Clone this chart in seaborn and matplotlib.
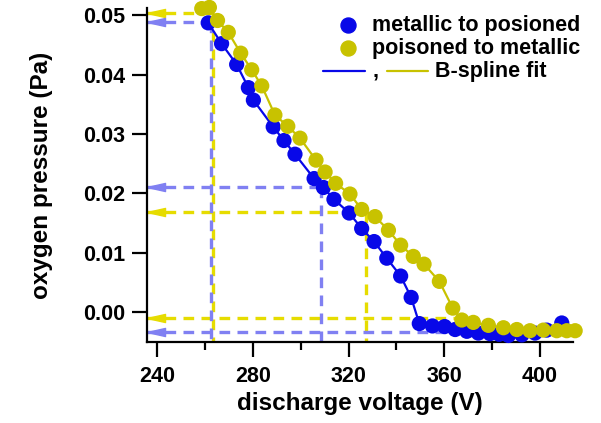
import matplotlib
matplotlib.use("Agg")
import matplotlib.pyplot as plt
import seaborn as sns
import pandas as pd
from matplotlib.ticker import FormatStrFormatter, MultipleLocator
from matplotlib.transforms import ScaledTranslation

# ---------------- data ----------------
blue_v = [261.3, 266.9, 273.2, 278.1, 280.2, 288.5, 293.0, 297.6, 305.6, 309.5,
          313.9, 320.3, 325.5, 330.7, 336.0, 341.8, 346.2, 349.6, 355.1, 360.2,
          364.6, 369.5, 374.3, 379.2, 383.0, 386.9, 392.5, 398.0, 402.9, 409.2]
blue_p = [0.0487, 0.0452, 0.0417, 0.0378, 0.0357, 0.0312, 0.0289, 0.0266, 0.0225, 0.0210,
          0.0190, 0.0167, 0.0141, 0.0119, 0.0091, 0.0061, 0.0025, -0.0019, -0.0023, -0.0024,
          -0.0029, -0.0032, -0.0035, -0.0036, -0.0037, -0.0039, -0.0038, -0.0035, -0.0030, -0.0018]

yellow_v = [258.6, 261.8, 265.2, 269.7, 274.9, 279.5, 283.7, 289.2, 294.6, 299.7,
            306.4, 310.2, 314.6, 320.6, 325.5, 331.1, 336.7, 341.8, 347.1, 351.6,
            358.0, 363.6, 367.4, 372.2, 378.5, 384.8, 390.4, 395.9, 401.5, 407.1,
            411.3, 414.8]
yellow_p = [0.0511, 0.0513, 0.0491, 0.0471, 0.0436, 0.0408, 0.0381, 0.0332, 0.0313, 0.0293,
            0.0256, 0.0236, 0.0217, 0.0199, 0.0173, 0.0161, 0.0138, 0.0113, 0.0094, 0.0081,
            0.0052, 0.0007, -0.0013, -0.0017, -0.0022, -0.0026, -0.0029, -0.0031, -0.0030, -0.0031,
            -0.0031, -0.0031]

# guide lines (dashed, with arrows towards the pressure axis)
blue_guide_v = [262.6, 308.5]
blue_guide_p = [0.0488, 0.0211]
blue_floor_p = -0.0034
blue_floor_end = 372.0
yellow_guide_v = [263.5, 327.3]
yellow_guide_p = [0.0504, 0.0169]
yellow_floor_p = -0.0009
yellow_floor_end = 366.0

x_ticks = [240, 280, 320, 360, 400]
y_ticks = [0.00, 0.01, 0.02, 0.03, 0.04, 0.05]
x_label = "discharge voltage (V)"
y_label = "oxygen pressure (Pa)"
label_blue = "metallic to posioned"
label_yellow = "poisoned to metallic"
label_fit = "B-spline fit"

# ---------------- style ----------------
sns.set_theme(style="ticks")
plt.rcParams["font.family"] = ["Liberation Sans", "DejaVu Sans"]
plt.rcParams["font.weight"] = "bold"
plt.rcParams["axes.labelweight"] = "bold"
plt.rcParams["text.color"] = "black"
plt.rcParams["axes.labelcolor"] = "black"
plt.rcParams["xtick.color"] = "black"
plt.rcParams["ytick.color"] = "black"
plt.rcParams["xtick.labelcolor"] = "black"
plt.rcParams["ytick.labelcolor"] = "black"

BLUE = "#0808e8"
YELLOW = "#c8c200"
BLUE_G = "#8080f2"
YELLOW_G = "#e6dc00"

fig = plt.figure(figsize=(6.01, 4.23), dpi=100)
ax = fig.add_axes([147 / 601, 1 - 342 / 423, 426 / 601, 334 / 423])
XMIN, XMAX = 235.7, 413.9
YMIN, YMAX = -0.0050, 0.0512
ax.set_xlim(XMIN, XMAX)
ax.set_ylim(YMIN, YMAX)

# ---------------- guide lines ----------------
glw = 2.4
dash = (3.2, 2.2)
head = [(-1, 0), (1, -0.45), (1, 0.45), (-1, 0)]
hms = 13
off = ScaledTranslation(hms / 2 / 72, 0, fig.dpi_scale_trans)


def guides(vs, ps, floor_p, floor_end, color):
    for v, p in zip(vs, ps):
        ax.plot([XMIN, v], [p, p], color=color, lw=glw, dashes=dash, zorder=1)
        ax.plot([v, v], [p, YMIN], color=color, lw=glw, dashes=dash, zorder=1)
    ax.plot([XMIN, floor_end], [floor_p, floor_p], color=color, lw=glw, dashes=dash, zorder=1)
    for p in list(ps) + [floor_p]:
        ax.plot([XMIN], [p], marker=head, ms=hms, color=color, mec=color, ls="none",
                transform=ax.transData + off, clip_on=False, zorder=2)


guides(yellow_guide_v, yellow_guide_p, yellow_floor_p, yellow_floor_end, YELLOW_G)
guides(blue_guide_v, blue_guide_p, blue_floor_p, blue_floor_end, BLUE_G)

# ---------------- data ----------------
df_b = pd.DataFrame({"v": blue_v, "p": blue_p})
df_y = pd.DataFrame({"v": yellow_v, "p": yellow_p})

sns.lineplot(data=df_b, x="v", y="p", color=BLUE, lw=1.6, ax=ax, zorder=3, sort=False)
sns.lineplot(data=df_y, x="v", y="p", color=YELLOW, lw=1.6, ax=ax, zorder=3, sort=False)
sns.scatterplot(data=df_b, x="v", y="p", color=BLUE, s=120, edgecolor="none", ax=ax,
                zorder=4, clip_on=False)
sns.scatterplot(data=df_y, x="v", y="p", color=YELLOW, s=120, edgecolor="none", ax=ax,
                zorder=5, clip_on=False)

# ---------------- axes ----------------
sns.despine(ax=ax)
for s in ["left", "bottom"]:
    ax.spines[s].set_linewidth(1.6)
    ax.spines[s].set_color("black")
ax.set_xticks(x_ticks)
ax.xaxis.set_minor_locator(MultipleLocator(20))
ax.set_yticks(y_ticks)
ax.yaxis.set_major_formatter(FormatStrFormatter("%.2f"))
ax.tick_params(axis="both", which="major", length=11, width=1.6, direction="out",
               labelsize=15.5, color="black", labelcolor="black")
ax.tick_params(axis="y", which="major", pad=5)
ax.tick_params(axis="x", which="major", pad=6)
ax.tick_params(axis="x", which="minor", length=6, width=1.6, direction="out", color="black")
ax.tick_params(axis="y", which="minor", length=0)
for lab in ax.get_xticklabels() + ax.get_yticklabels():
    lab.set_fontweight("bold")
ax.set_xlabel(x_label, fontsize=17.5, fontweight="bold", labelpad=4, color="black")
ax.set_ylabel(y_label, fontsize=17.5, fontweight="bold", labelpad=21, color="black")
ax.grid(False)

# ---------------- legend (hand-built to match layout) ----------------
lfs = 15.5
ax.plot([0.472], [0.949], "o", color=BLUE, ms=10.8, transform=ax.transAxes, clip_on=False)
ax.plot([0.472], [0.880], "o", color=YELLOW, ms=10.8, transform=ax.transAxes, clip_on=False)
ax.text(0.527, 0.949, label_blue, transform=ax.transAxes, fontsize=lfs, fontweight="bold",
        va="center", ha="left", color="black")
ax.text(0.527, 0.880, label_yellow, transform=ax.transAxes, fontsize=lfs, fontweight="bold",
        va="center", ha="left", color="black")
ax.plot([0.413, 0.512], [0.811, 0.811], color=BLUE, lw=1.6, transform=ax.transAxes, clip_on=False)
ax.text(0.537, 0.811, ",", transform=ax.transAxes, fontsize=lfs, fontweight="bold",
        va="center", ha="center", color="black")
ax.plot([0.563, 0.660], [0.811, 0.811], color=YELLOW, lw=1.6, transform=ax.transAxes, clip_on=False)
ax.text(0.676, 0.811, label_fit, transform=ax.transAxes, fontsize=lfs, fontweight="bold",
        va="center", ha="left", color="black")

fig.savefig("out.png", dpi=100)
